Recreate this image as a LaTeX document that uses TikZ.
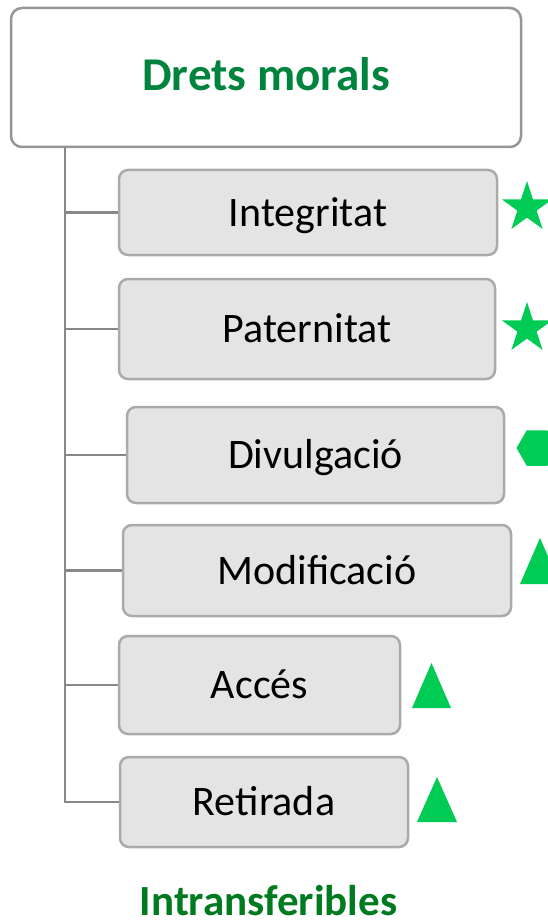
\documentclass[tikz,border=0pt]{standalone}
\usepackage{fontspec}
\setmainfont{Carlito}
\usetikzlibrary{shapes.geometric}
\definecolor{titlegreen}{RGB}{0,132,61}
\definecolor{footgreen}{RGB}{0,122,30}
\definecolor{markgreen}{RGB}{0,204,85}
\definecolor{boxfill}{RGB}{228,228,228}
\definecolor{boxline}{RGB}{170,170,170}
\definecolor{topline}{RGB}{150,150,150}
\definecolor{linkline}{RGB}{136,136,136}
\tikzset{
  topbox/.style={draw=topline, line width=2.5pt, fill=white, rounded corners=11pt,
    font=\fontsize{47}{56}\selectfont\bfseries, text=titlegreen,
    text height=31pt, text depth=5pt, inner sep=0pt},
  itembox/.style={draw=boxline, line width=2.5pt, fill=boxfill, rounded corners=9pt,
    font=\fontsize{42}{50}\selectfont, text=black,
    text height=27pt, text depth=0pt, inner sep=0pt},
  link/.style={draw=linkline, line width=2.5pt},
  starmark/.style={star, star points=5, star point ratio=2.618, fill=markgreen, draw=none,
    inner sep=0pt, minimum size=53pt},
  hexmark/.style={regular polygon, regular polygon sides=6, fill=markgreen, draw=none,
    inner sep=0pt, minimum size=41pt},
  trimark/.style={fill=markgreen},
  foot/.style={font=\fontsize{43}{50}\selectfont\bfseries, text=footgreen, inner sep=0pt}
}
\begin{document}
\begin{tikzpicture}[x=1pt, y=-1pt]
\useasboundingbox (0,0) rectangle (548,920);
\clip (0,0) rectangle (548,920);
\node[topbox, minimum width=510pt, minimum height=139pt] (top) at (266,77.5) {Drets morals};
\node[itembox, minimum width=378pt, minimum height=85pt]  (b1) at (308,212.5) {Integritat};
\node[itembox, minimum width=376pt, minimum height=100pt] (b2) at (307,329) {Paternitat};
\node[itembox, minimum width=377pt, minimum height=96pt]  (b3) at (315.5,455) {Divulgació};
\node[itembox, minimum width=388pt, minimum height=91pt]  (b4) at (317,570.5) {Modificació};
\node[itembox, minimum width=281pt, minimum height=98pt]  (b5) at (259.5,685) {Accés};
\node[itembox, minimum width=288pt, minimum height=90pt]  (b6) at (264,802) {Retirada};
\coordinate (spine) at (65,147);
\draw[link] (spine) |- (b6.west);
\foreach \b in {b1,b2,b3,b4,b5}{
  \draw[link] (\b.west -| spine) -- (\b.west);
}
\node[starmark] (s1) at (527,207.5) {};
\node[starmark] (s2) at (527,328.5) {};
\node[hexmark] (h3) at (537,448) {};
\fill[trimark] (540,538) -- (560,584) -- (520,584) -- cycle;
\fill[trimark] (431.5,663) -- (451,708) -- (412,708) -- cycle;
\fill[trimark] (437,777) -- (457,822) -- (417,822) -- cycle;
\node[foot, anchor=base] (foot) at (268.5,915) {Intransferibles};
\end{tikzpicture}
\end{document}
